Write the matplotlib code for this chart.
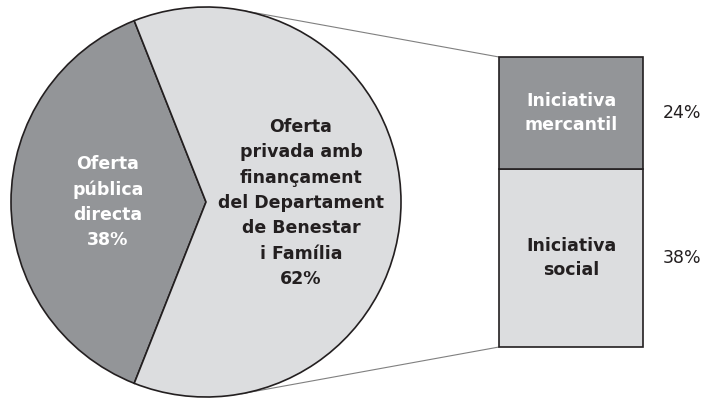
import numpy as np
import matplotlib.pyplot as plt
from matplotlib.patches import ConnectionPatch

# pie: oferta pública vs privada
pie_labels = ['Oferta\npública\ndirecta\n38%',
              'Oferta\nprivada amb\nfinançament\ndel Departament\nde Benestar\ni Família\n62%']
pie_values = [38, 62]
pie_colors = ['#939598', '#dcdddf']
pie_text_colors = ['white', '#231f20']

# bar: breakdown of the private offer
bar_labels = ['Iniciativa\nsocial', 'Iniciativa\nmercantil']
bar_values = [38, 24]
bar_colors = ['#dcdddf', '#939598']
bar_text_colors = ['#231f20', 'white']
bar_pct = ['38%', '24%']

W, H = 711, 399
fig = plt.figure(figsize=(W / 100, H / 100), dpi=100)
ax = fig.add_axes([0, 0, 1, 1])

cx, cy, r = 206, 197, 195
start = 180 - pie_values[0] / sum(pie_values) * 360 / 2
wedges, _ = ax.pie(pie_values, colors=pie_colors, startangle=start,
                   center=(cx, cy), radius=r, frame=True,
                   wedgeprops=dict(edgecolor='#231f20', linewidth=1.2))
ax.set_xlim(0, W)
ax.set_ylim(0, H)
ax.set_aspect('equal')
ax.axis('off')

ax.text(108, cy, pie_labels[0], ha='center', va='center', color=pie_text_colors[0],
        fontsize=12.5, fontweight='bold', linespacing=1.5)
ax.text(301, cy - 1, pie_labels[1], ha='center', va='center', color=pie_text_colors[1],
        fontsize=12.5, fontweight='bold', linespacing=1.52)

# stacked bar
ax2 = fig.add_axes([499 / W, (H - 347) / H, 144 / W, 290 / H])
bottom = 0
for val, col, lab, tc, pct in zip(bar_values, bar_colors, bar_labels, bar_text_colors, bar_pct):
    ax2.bar(0, val, bottom=bottom, width=1, color=col, edgecolor='#231f20',
            linewidth=1.2, clip_on=False)
    ax2.text(0, bottom + val / 2, lab, ha='center', va='center', color=tc,
             fontsize=12.5, fontweight='bold', linespacing=1.45)
    ax2.text(0.64, bottom + val / 2, pct, ha='left', va='center', color='#231f20',
             fontsize=12.5)
    bottom += val
ax2.set_xlim(-0.5, 0.5)
ax2.set_ylim(0, sum(bar_values))
ax2.axis('off')

# connector lines
for ang, yb in [(78.5, sum(bar_values)), (-79.5, 0)]:
    px = cx + r * np.cos(np.radians(ang))
    py = cy + r * np.sin(np.radians(ang))
    con = ConnectionPatch(xyA=(px, py), coordsA=ax.transData,
                          xyB=(-0.5, yb), coordsB=ax2.transData,
                          color='#808080', linewidth=0.8, zorder=0)
    fig.add_artist(con)

fig.savefig('out.png', dpi=100)
